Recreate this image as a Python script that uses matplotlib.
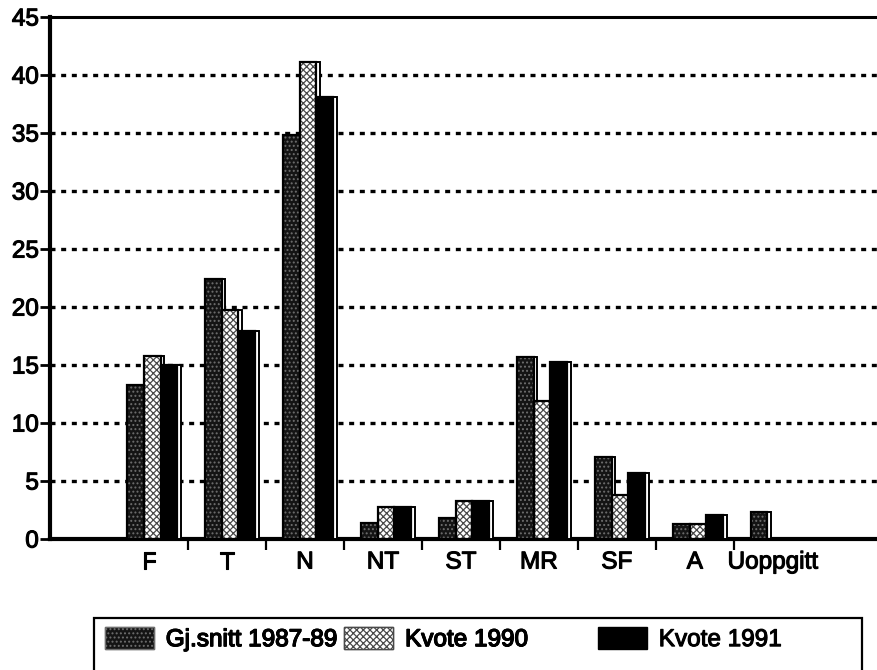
import matplotlib

matplotlib.use("Agg")

import matplotlib.patheffects as pe
import matplotlib.pyplot as plt
import numpy as np
from matplotlib.patches import Patch, Rectangle


categories = ["F", "T", "N", "NT", "ST", "MR", "SF", "A", "Uoppgitt"]
snitt_1987_89 = [13.3, 22.4, 34.8, 1.4, 1.8, 15.7, 7.1, 1.3, 2.3]
kvote_1990 = [15.8, 19.7, 41.1, 2.8, 3.3, 11.9, 3.8, 1.3, 0.0]
kvote_1991 = [15.0, 17.9, 38.1, 2.8, 3.3, 15.3, 5.7, 2.1, 0.0]
series_labels = ["Gj.snitt 1987-89", "Kvote 1990", "Kvote 1991"]
y_ticks = [0, 5, 10, 15, 20, 25, 30, 35, 40, 45]

FW = 878
FH = 670
FONT_SIZE = 17.5
THICK = [pe.withStroke(linewidth=0.8, foreground="black")]


def draw_chart(out_path: str) -> None:
	plt.rcParams["font.family"] = ["Liberation Sans", "DejaVu Sans"]
	plt.rcParams["hatch.linewidth"] = 0.9

	fig = plt.figure(figsize=(FW / 100, FH / 100), dpi=100)
	ax = fig.add_axes([50 / FW, 131 / FH, 828 / FW, 522 / FH])

	x = np.arange(len(categories))
	width = 0.215

	styles = [
		dict(facecolor="#141414", edgecolor="#6e6e6e", hatch="...."),
		dict(facecolor="white", edgecolor="#4a4a4a", hatch="xxxxx"),
		dict(facecolor="black", edgecolor="black", hatch=None),
	]
	series = [snitt_1987_89, kvote_1990, kvote_1991]

	for i, (values, style) in enumerate(zip(series, styles)):
		pos = x + 0.04 + (i - 1) * width
		# white 3D side, hidden behind the next bar where that one is taller
		ax.bar(
			pos + width / 2 + 0.02,
			values,
			width=0.05,
			facecolor="white",
			edgecolor="black",
			linewidth=1.4,
			zorder=2.9,
		)
		ax.bar(
			pos,
			values,
			width=width,
			linewidth=0,
			zorder=3,
			**style,
		)
		ax.bar(
			pos,
			values,
			width=width,
			fill=False,
			edgecolor="black",
			linewidth=1.6,
			zorder=3.1,
		)

	ax.set_xlim(-1.27, 9.35)
	ax.set_ylim(0, 45)

	ax.set_yticks(y_ticks)
	ax.set_yticklabels([str(t) for t in y_ticks], fontsize=FONT_SIZE)
	ax.tick_params(axis="y", length=7, width=2, pad=1, direction="out")

	ax.set_xticks(x)
	ax.set_xticklabels(categories, fontsize=FONT_SIZE)
	ax.tick_params(axis="x", which="major", length=0, pad=9)
	ax.set_xticks(x[:-1] + 0.5, minor=True)
	ax.tick_params(axis="x", which="minor", length=8, width=1.6, direction="out")

	for label in ax.get_xticklabels() + ax.get_yticklabels():
		label.set_path_effects(THICK)

	for tick in y_ticks[1:-1]:
		ax.axhline(
			tick,
			color="black",
			linewidth=2.4,
			linestyle=(0, (1.5, 1.7)),
			zorder=1,
		)

	ax.spines["left"].set_linewidth(3)
	ax.spines["bottom"].set_linewidth(3)
	ax.spines["top"].set_linewidth(2.2)
	ax.spines["right"].set_visible(False)

	handles = [Patch(label=label, **style) for label, style in zip(series_labels, styles)]
	legend_opts = dict(
		loc="center left",
		fontsize=FONT_SIZE,
		frameon=False,
		borderpad=0,
		borderaxespad=0,
		handlelength=2.0,
		handleheight=1.0,
		handletextpad=0.5,
		columnspacing=0.3,
	)
	first = fig.legend(
		handles=handles[:2],
		ncol=2,
		bbox_to_anchor=(105 / FW, 1 - 639 / FH),
		**legend_opts,
	)
	second = fig.legend(
		handles=handles[2:],
		bbox_to_anchor=(598 / FW, 1 - 639 / FH),
		**legend_opts,
	)
	fig.add_artist(first)
	for text in first.get_texts() + second.get_texts():
		text.set_path_effects(THICK)

	fig.add_artist(
		Rectangle(
			(94 / FW, -0.05),
			(862 - 94) / FW,
			(FH - 618) / FH + 0.05,
			transform=fig.transFigure,
			fill=False,
			edgecolor="black",
			linewidth=1.6,
		)
	)

	fig.savefig(out_path, dpi=100)
	plt.close(fig)


if __name__ == "__main__":
	draw_chart("out.png")
